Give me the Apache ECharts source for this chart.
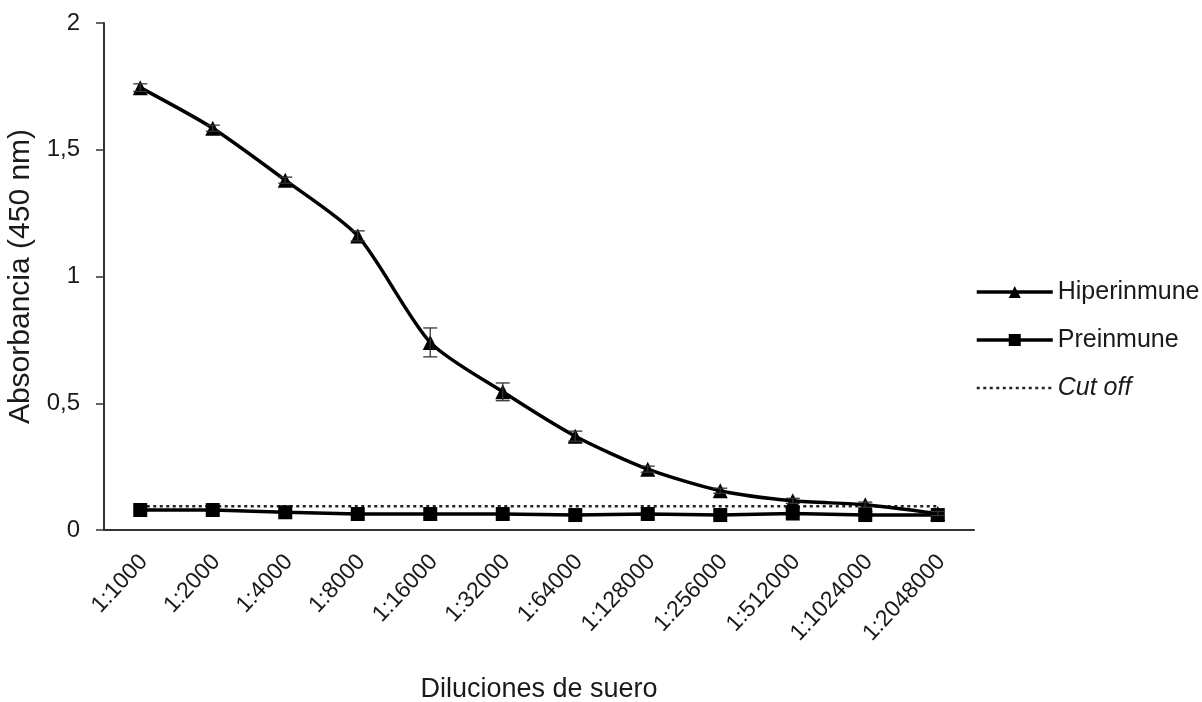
<!DOCTYPE html>
<html>
<head>
<meta charset="utf-8">
<script src="https://cdn.jsdelivr.net/npm/echarts@6/dist/echarts.min.js"></script>
<style>
  html, body { margin: 0; padding: 0; background: #fff; }
  #chart { width: 1202px; height: 702px; }
</style>
</head>
<body>
<div id="chart"></div>
<script>
// Serum dilutions (x axis)
const diluciones = ['1:1000', '1:2000', '1:4000', '1:8000', '1:16000', '1:32000',
  '1:64000', '1:128000', '1:256000', '1:512000', '1:1024000', '1:2048000'];
// Mean absorbance at 450 nm
const hiperinmune = [1.745, 1.585, 1.38, 1.16, 0.74, 0.545, 0.37, 0.24, 0.155, 0.115, 0.1, 0.065];
const hiperinmuneSD = [0.015, 0.012, 0.012, 0.02, 0.057, 0.035, 0.02, 0.012, 0.01, 0.01, 0.01, 0.008];
const preinmune = [0.079, 0.079, 0.07, 0.063, 0.063, 0.063, 0.059, 0.063, 0.059, 0.065, 0.059, 0.059];
const cutoffValue = 0.094;
const cutoff = diluciones.map(() => cutoffValue);
const yTicks = [0, 0.5, 1, 1.5, 2];

const textColor = '#1a1a1a';
const font = 'Liberation Sans, Arial, sans-serif';

const chart = echarts.init(document.getElementById('chart'));
chart.setOption({
  backgroundColor: '#fff',
  animation: false,
  grid: { left: 104, right: 228, top: 23, bottom: 172, outerBoundsMode: 'none', containLabel: false },
  legend: {
    orient: 'vertical',
    left: 975,
    top: 279,
    padding: 0,
    itemWidth: 76,
    itemHeight: 15,
    itemGap: 22,
    textStyle: { color: textColor, fontSize: 25, lineHeight: 26, fontFamily: font,
      rich: { it: { fontStyle: 'italic', fontSize: 25, lineHeight: 26, fontFamily: font, color: textColor } } },
    formatter: function (name) { return name === 'Cut off' ? '{it|Cut off}' : name; },
    data: [
      { name: 'Hiperinmune', lineStyle: { width: 3.5 } },
      { name: 'Preinmune', lineStyle: { width: 3.5 } },
      { name: 'Cut off', itemStyle: { opacity: 0 }, lineStyle: { width: 2.5 } }
    ]
  },
  xAxis: {
    type: 'category',
    data: diluciones,
    boundaryGap: true,
    name: 'Diluciones de suero',
    nameLocation: 'middle',
    nameGap: 146,
    nameTextStyle: { color: textColor, fontSize: 27, fontFamily: font },
    axisLine: { lineStyle: { color: '#333', width: 2 } },
    axisTick: { alignWithLabel: true, length: 5, lineStyle: { color: '#333', width: 1.5 } },
    axisLabel: {
      rotate: 47, verticalAlign: 'top', padding: [0, 7, 0, 0],
      color: textColor, fontSize: 23, fontFamily: font, margin: 15
    }
  },
  yAxis: {
    type: 'value',
    min: 0, max: 2, interval: 0.5,
    name: 'Absorbancia (450 nm)',
    nameLocation: 'middle',
    nameGap: 62,
    nameTextStyle: { color: textColor, fontSize: 30, fontFamily: font },
    splitLine: { show: false },
    axisLine: { show: true, lineStyle: { color: '#333', width: 2 } },
    axisTick: { show: true, length: 8, lineStyle: { color: '#333', width: 1.5 } },
    axisLabel: {
      color: textColor, fontSize: 24, fontFamily: font, margin: 24,
      formatter: function (v) { return yTicks.indexOf(v) >= 0 ? String(v).replace('.', ',') : ''; }
    }
  },
  series: [
    {
      name: 'Cut off',
      type: 'line',
      data: cutoff,
      symbol: 'none',
      itemStyle: { color: '#222' },
      lineStyle: { color: '#222', width: 2.5, type: [3, 3.5] },
      z: 1
    },
    {
      name: 'Preinmune',
      type: 'line',
      data: preinmune,
      symbol: 'rect',
      symbolSize: 14,
      itemStyle: { color: '#000' },
      lineStyle: { color: '#000', width: 3.5 },
      z: 2
    },
    {
      name: 'Hiperinmune',
      type: 'line',
      data: hiperinmune,
      smooth: 0.25,
      symbol: 'triangle',
      symbolSize: 15,
      itemStyle: { color: '#000' },
      lineStyle: { color: '#000', width: 3.5 },
      z: 3
    },
    {
      name: 'SD',
      type: 'custom',
      data: hiperinmune.map((v, i) => [i, v - hiperinmuneSD[i], v + hiperinmuneSD[i]]),
      renderItem: function (params, api) {
        const lo = api.coord([api.value(0), api.value(1)]);
        const hi = api.coord([api.value(0), api.value(2)]);
        const w = 7;
        const st = { stroke: '#333', lineWidth: 1.3 };
        return {
          type: 'group',
          children: [
            { type: 'line', shape: { x1: lo[0], y1: lo[1], x2: hi[0], y2: hi[1] }, style: st },
            { type: 'line', shape: { x1: lo[0] - w, y1: lo[1], x2: lo[0] + w, y2: lo[1] }, style: st },
            { type: 'line', shape: { x1: hi[0] - w, y1: hi[1], x2: hi[0] + w, y2: hi[1] }, style: st }
          ]
        };
      },
      z: 4
    }
  ]
});
</script>
</body>
</html>
